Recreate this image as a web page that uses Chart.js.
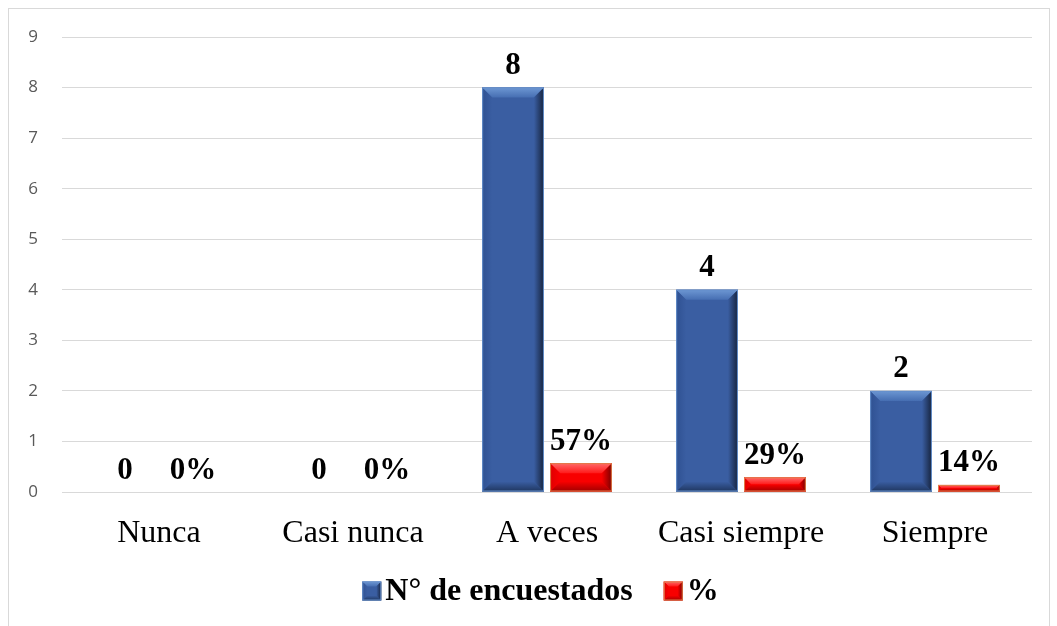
<!DOCTYPE html>
<html>
<head>
<meta charset="utf-8">
<script src="https://cdn.jsdelivr.net/npm/chart.js@4/dist/chart.umd.min.js"></script>
<style>
  html, body { margin: 0; padding: 0; background: #fff; }
  #wrap { position: relative; width: 1057px; height: 626px; }
</style>
</head>
<body>
<div id="wrap"><canvas id="chart" width="1057" height="626"></canvas></div>
<script>
'use strict';

/* ── Data ── */
const categories = ['Nunca', 'Casi nunca', 'A veces', 'Casi siempre', 'Siempre'];
const encuestados = [0, 0, 8, 4, 2];
const porcentaje  = [0, 0, 0.57, 0.29, 0.14];
const yTicks      = [0, 1, 2, 3, 4, 5, 6, 7, 8, 9];

const SERIF = '"Liberation Serif", "Times New Roman", serif';

/* ── Bevel palettes ── */
const bevel = {
  blue: { base: '#3a5ea2', top: ['#6d97d3', '#466eb2'], left: ['#2f5192', '#3a5ea2'], right: ['#3a5ea2', '#16233d'], bottom: ['#3a5ea2', '#1f365f'], edge: '#6690cc' },
  red:  { base: '#f80000', top: ['#ff6a6a', '#ff1a1a'], left: ['#e00000', '#f80000'], right: ['#f80000', '#7a0000'], bottom: ['#f80000', '#a00000'], edge: '#e0804a' }
};

function drawBevel(g, l, t, w, h, p, size) {
  const r = l + w, b = t + h;
  const s = Math.max(0, Math.min(size, w / 2, h / 2));
  g.fillStyle = p.base;
  g.fillRect(l, t, w, h);
  if (s > 0) {
    const poly = (pts, cols, x0, y0, x1, y1) => {
      const grad = g.createLinearGradient(x0, y0, x1, y1);
      grad.addColorStop(0, cols[0]);
      grad.addColorStop(1, cols[1]);
      g.beginPath();
      g.moveTo(pts[0][0], pts[0][1]);
      for (let i = 1; i < pts.length; i++) g.lineTo(pts[i][0], pts[i][1]);
      g.closePath();
      g.fillStyle = grad;
      g.fill();
    };
    poly([[l, t], [r, t], [r - s, t + s], [l + s, t + s]], p.top, 0, t, 0, t + s);
    poly([[l, b], [r, b], [r - s, b - s], [l + s, b - s]], p.bottom, 0, b - s, 0, b);
    poly([[l, t], [l + s, t + s], [l + s, b - s], [l, b]], p.left, l, 0, l + s, 0);
    poly([[r, t], [r - s, t + s], [r - s, b - s], [r, b]], p.right, r - s, 0, r, 0);
  }
  g.strokeStyle = p.edge;
  g.lineWidth = 1;
  g.strokeRect(l + 0.5, t + 0.5, Math.max(0, w - 1), Math.max(0, h - 1));
}

/* ── Plugins ── */
const frame = {
  id: 'frame',
  beforeDraw(chart) {
    const g = chart.ctx;
    g.save();
    g.fillStyle = '#fff';
    g.fillRect(0, 0, chart.width, chart.height);
    g.strokeStyle = '#d9d9d9';
    g.lineWidth = 1;
    g.strokeRect(8.5, 8.5, 1041, 700);
    g.restore();
  }
};

const bevelBars = {
  id: 'bevelBars',
  afterDatasetsDraw(chart) {
    const g = chart.ctx;
    chart.data.datasets.forEach((ds, i) => {
      const p = ds.bevel;
      chart.getDatasetMeta(i).data.forEach(bar => {
        const { x, y, base, width } = bar.getProps(['x', 'y', 'base', 'width'], true);
        const h = base - y;
        if (h < 1) return;
        g.save();
        drawBevel(g, x - width / 2, y, width, h, p, 10);
        g.restore();
      });
    });
  }
};

const valueLabels = {
  id: 'valueLabels',
  afterDatasetsDraw(chart) {
    const g = chart.ctx;
    g.save();
    g.font = 'bold 31px ' + SERIF;
    g.fillStyle = '#000';
    g.textAlign = 'center';
    g.textBaseline = 'bottom';
    chart.data.datasets.forEach((ds, i) => {
      chart.getDatasetMeta(i).data.forEach((bar, j) => {
        g.fillText(ds.fmt(ds.data[j]), bar.x, bar.y - 6);
      });
    });
    g.restore();
  }
};

/* legend drawn by hand so the marker sits tight against its text, as in Excel */
const bevelLegend = {
  id: 'bevelLegend',
  afterDraw(chart) {
    const g = chart.ctx;
    const box = 19, gapIn = 4, gapOut = 31;
    g.save();
    g.font = 'bold 32px ' + SERIF;
    const items = chart.data.datasets.map(ds => ({ ds, w: g.measureText(ds.label).width }));
    const total = items.reduce((a, it) => a + box + gapIn + it.w, 0) + gapOut * (items.length - 1);
    let x = chart.width / 2 + 12 - total / 2;
    const cy = 591;
    g.textBaseline = 'middle';
    g.textAlign = 'left';
    items.forEach(it => {
      drawBevel(g, x, cy - box / 2, box, box, it.ds.bevel, 5);
      x += box + gapIn;
      g.fillStyle = '#000';
      g.fillText(it.ds.label, x, cy + 1);
      x += it.w + gapOut;
    });
    g.restore();
  }
};

/* ── Chart ── */
new Chart(document.getElementById('chart'), {
  type: 'bar',
  data: {
    labels: categories,
    datasets: [
      {
        label: 'N° de encuestados',
        data: encuestados,
        backgroundColor: bevel.blue.base,
        bevel: bevel.blue,
        fmt: v => String(v),
        categoryPercentage: 0.7,
        barPercentage: 0.91
      },
      {
        label: '%',
        data: porcentaje,
        backgroundColor: bevel.red.base,
        bevel: bevel.red,
        fmt: v => Math.round(v * 100) + '%',
        categoryPercentage: 0.7,
        barPercentage: 0.91
      }
    ]
  },
  options: {
    responsive: false,
    animation: false,
    layout: { padding: { top: 37, right: 25, left: 0, bottom: 74 } },
    plugins: {
      tooltip: { enabled: false },
      legend: { display: false }
    },
    scales: {
      x: {
        grid: { display: false },
        border: { display: false },
        ticks: {
          color: '#000',
          padding: 14,
          font: { family: SERIF, size: 32 }
        },
        afterFit: s => { s.height = 60; }
      },
      y: {
        min: 0,
        max: 9,
        afterBuildTicks: s => { s.ticks = yTicks.map(v => ({ value: v })); },
        grid: { color: '#d9d9d9', lineWidth: 1, drawTicks: false },
        border: { display: false },
        ticks: {
          color: '#595959',
          padding: 24,
          font: { family: '"Open Sans", "Liberation Sans", sans-serif', size: 17 }
        },
        afterFit: s => { s.width = 62; }
      }
    }
  },
  plugins: [frame, bevelBars, valueLabels, bevelLegend]
});
</script>
</body>
</html>
